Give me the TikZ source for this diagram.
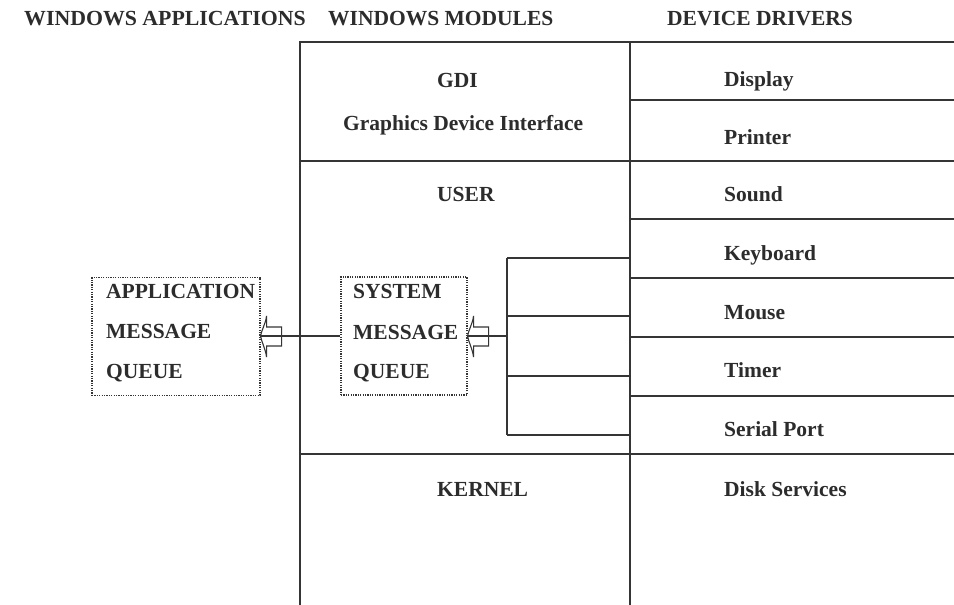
\documentclass[tikz,border=0pt]{standalone}
\usepackage{fontspec}
\usepackage{graphicx}
\setmainfont{Liberation Serif}
\definecolor{ink}{HTML}{2C2C2C}
\definecolor{rulec}{HTML}{353535}
\begin{document}
\begin{tikzpicture}[x=1pt,y=-1pt,
  rulel/.style={draw=rulec, line width=1.1pt},
  qbox/.style={draw=rulec, line width=1.1pt, dash pattern=on 1.2pt off 1.2pt, inner sep=0pt, rectangle},
  lbl/.style={anchor=base west, inner sep=0pt, text=ink, font=\bfseries\fontsize{21.5}{26}\selectfont},
  hollowarrow/.pic={\draw[draw=rulec,line width=1.1pt,line join=miter]
    (0,0) .. controls (1,-6) and (5,-12) .. (6,-20) -- (6,-9) -- (21,-9) -- (21,10) -- (6,10) -- (6,21)
    .. controls (5,13) and (1,6) .. (0,0) -- cycle;}
]
\useasboundingbox (0,0) rectangle (954,605);
\fill[white] (0,0) rectangle (954,605);

% headers
\node[lbl] (h1) at (24,25) {\scalebox{1.015}[1]{WINDOWS APPLICATIONS}};
\node[lbl] (h2) at (328,25) {WINDOWS MODULES};
\node[lbl] (h3) at (667,25) {DEVICE DRIVERS};

% table frame
\coordinate (tl) at (300,42);
\coordinate (dv) at (630,42);
\coordinate (tr) at (954,42);
\draw[rulel] (300,605) -- (tl) -- (tr);
\draw[rulel] (dv) -- (630,605);
\draw[rulel] (300,161) -- (954,161);
\draw[rulel] (300,454) -- (954,454);
\foreach \yy in {100,219,278,337,396} {\draw[rulel] (630,\yy) -- (954,\yy);}

% module labels
\node[lbl] (gdi) at (437,87) {GDI};
\node[lbl] (gdil) at (343,130) {Graphics Device Interface};
\node[lbl] (user) at (437,201) {USER};
\node[lbl] (kern) at (437,496) {KERNEL};

% driver labels
\node[lbl] (d1) at (724,86) {Display};
\node[lbl] (d2) at (724,144) {Printer};
\node[lbl] (d3) at (724,201) {Sound};
\node[lbl] (d4) at (724,260) {Keyboard};
\node[lbl] (d5) at (724,319) {Mouse};
\node[lbl] (d6) at (724,377) {Timer};
\node[lbl] (d7) at (724,436) {Serial Port};
\node[lbl] (d8) at (724,496) {Disk Services};

% queues
\node[qbox, minimum width=168pt, minimum height=118pt] (appq) at (176,336.5) {};
\node[qbox, minimum width=126pt, minimum height=118pt] (sysq) at (404,336) {};
\node[lbl] (a1) at (106,298) {APPLICATION};
\node[lbl] (a2) at (106,338) {MESSAGE};
\node[lbl] (a3) at (106,378) {QUEUE};
\node[lbl] (s1) at (353,298) {SYSTEM};
\node[lbl] (s2) at (353,339) {MESSAGE};
\node[lbl] (s3) at (353,378) {QUEUE};

% bracket from drivers
\coordinate (bk1) at (507,258);
\coordinate (bk2) at (507,316);
\coordinate (bk3) at (507,376);
\coordinate (bk4) at (507,435);
\draw[rulel] (bk1) -- (bk4);
\foreach \b in {bk1,bk2,bk3,bk4} {\draw[rulel] (\b) -- (\b -| dv);}

% connectors
\draw[rulel] (sysq.east) -- (sysq.east -| bk1);
\draw[rulel] (appq.east |- sysq.west) -- (sysq.west);
\pic at (sysq.east) {hollowarrow};
\pic at (appq.east |- sysq.west) {hollowarrow};
\end{tikzpicture}
\end{document}
